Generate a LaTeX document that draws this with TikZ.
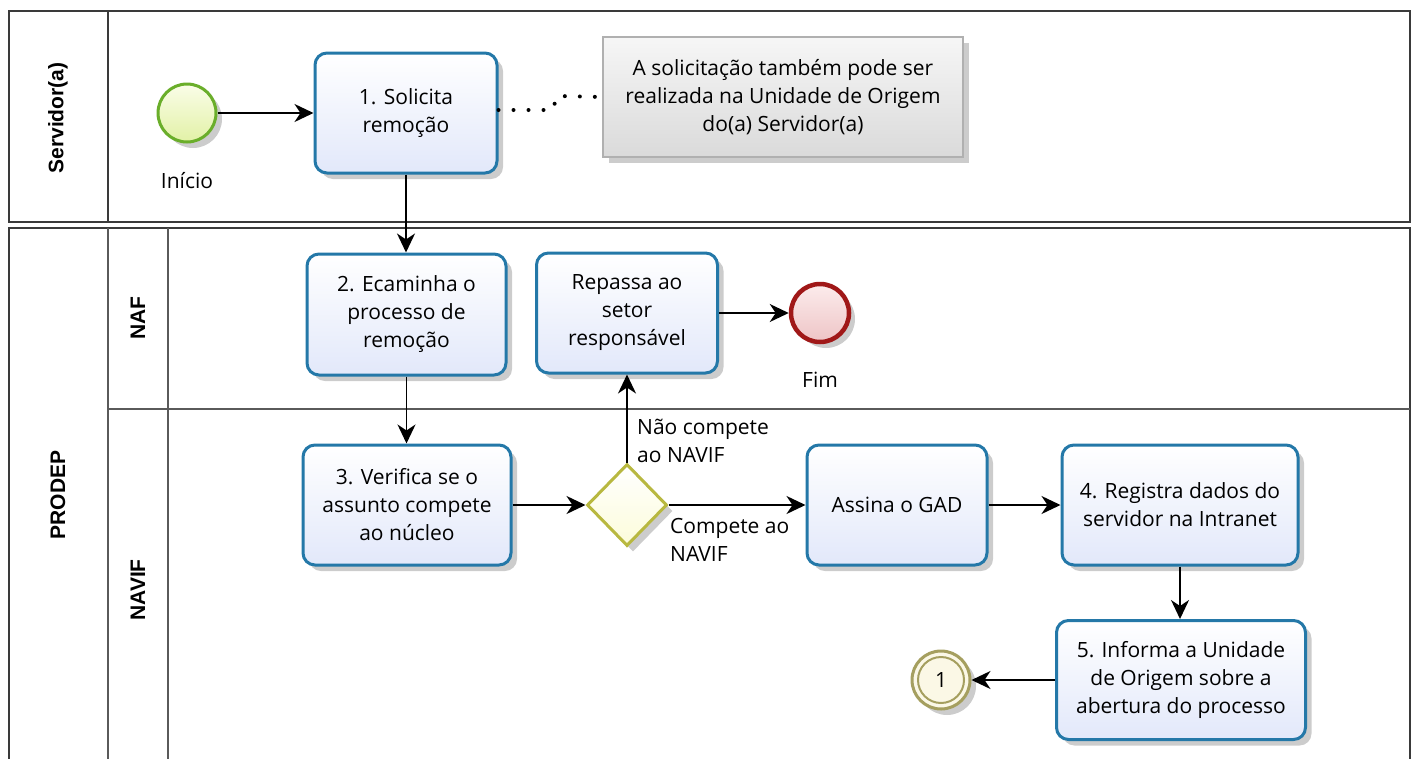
\documentclass[tikz,border=0pt]{standalone}
\usepackage{fontspec}
\setmainfont{Open Sans}
\newfontfamily\lanefont{Liberation Sans}
\usetikzlibrary{arrows.meta,shadows,shapes.geometric}
\definecolor{taskblue}{RGB}{36,120,168}
\definecolor{taskfill}{RGB}{226,232,250}
\definecolor{poolline}{RGB}{58,58,58}
\definecolor{laneline}{RGB}{90,90,90}
\definecolor{startgreen}{RGB}{106,174,42}
\definecolor{startfilltop}{RGB}{250,253,232}
\definecolor{startfillbot}{RGB}{226,241,166}
\definecolor{endred}{RGB}{160,24,24}
\definecolor{endfilltop}{RGB}{252,236,236}
\definecolor{endfillbot}{RGB}{238,196,198}
\definecolor{gwolive}{RGB}{184,184,64}
\definecolor{gwfill}{RGB}{252,252,218}
\definecolor{interolive}{RGB}{165,159,95}
\definecolor{interfill}{RGB}{251,248,230}
\definecolor{notetop}{RGB}{246,246,246}
\definecolor{notebot}{RGB}{218,218,218}
\definecolor{noteline}{RGB}{176,176,176}
\tikzset{
  x=1pt, y=-1pt,
  txt/.style={font=\fontsize{21}{28}\selectfont},
  softshadow/.style={drop shadow={shadow xshift=6pt, shadow yshift=-6pt, opacity=0.2, fill=black}},
  taskbox/.style={txt, draw=taskblue, line width=3pt, rounded corners=12pt,
    top color=white, bottom color=taskfill, align=center, inner sep=0pt, softshadow},
  notebox/.style={txt, draw=noteline, line width=1.5pt, top color=notetop, bottom color=notebot,
    align=center, inner sep=0pt, softshadow},
  startev/.style={circle, draw=startgreen, line width=3pt, top color=startfilltop,
    bottom color=startfillbot, minimum size=58pt, inner sep=0pt, softshadow},
  endev/.style={circle, draw=endred, line width=4.5pt, top color=endfilltop,
    bottom color=endfillbot, minimum size=58pt, inner sep=0pt, softshadow},
  interev/.style={circle, draw=interolive, line width=3pt, fill=interfill,
    minimum size=58pt, inner sep=0pt, softshadow, txt},
  gwshape/.style={diamond, draw=gwolive, line width=3pt, top color=white, bottom color=gwfill,
    minimum width=80pt, minimum height=82pt, inner sep=0pt, softshadow},
  flow/.style={line width=1.8pt, draw=black, -{Stealth[length=19pt,width=18pt,inset=6pt]}},
  assoc/.style={line width=4pt, draw=black, dash pattern=on 0pt off 15pt, line cap=round},
  pool/.style={draw=poolline, line width=2pt},
  lane/.style={draw=laneline, line width=1.5pt},
  lanelabel/.style={font=\lanefont\bfseries\fontsize{21}{24}\selectfont, rotate=90},
  lbl/.style={txt, inner sep=0pt, align=left}
}
\begin{document}
\begin{tikzpicture}
\useasboundingbox (0,0) rectangle (1416,758);
\clip (0,0) rectangle (1416,758);
\fill[white] (0,0) rectangle (1416,758);

% Pool 1: Servidor(a)
\draw[pool] (9,11) rectangle (1410,222);
\draw[pool] (108,11) -- (108,222);
\node[lanelabel] (lsrv) at (58,118) {Servidor(a)};

% Pool 2: PRODEP
\draw[pool] (9,770) -- (9,228) -- (1410,228) -- (1410,770);
\draw[lane] (108,228) -- (108,770);
\draw[lane] (168,228) -- (168,770);
\draw[lane] (108,409) -- (1410,409);
\node[lanelabel] (lprodep) at (58,495) {PRODEP};
\node[lanelabel] (lnaf) at (138,318) {NAF};
\node[lanelabel] (lnavif) at (138,590) {NAVIF};

% Nodes
\node[startev] (start) at (187,113) {};
\node[txt] (startlbl) at (187,181) {Início};
\node[taskbox, minimum width=182pt, minimum height=120pt] (t1) at (406,113) {1. Solicita\\remoção};
\node[notebox, minimum width=360pt, minimum height=120pt] (note) at (783,97)
  {A solicitação também pode ser\\realizada na Unidade de Origem\\do(a) Servidor(a)};

\node[taskbox, minimum width=199pt, minimum height=121pt] (t2) at (406.5,314.5) {2. Ecaminha o\\processo de\\remoção};
\node[taskbox, minimum width=181pt, minimum height=120pt] (rep) at (627,313) {Repassa ao\\setor\\responsável};
\node[endev] (fim) at (820,313) {};
\node[txt] (fimlbl) at (820,380) {Fim};

\node[taskbox, minimum width=208pt, minimum height=120pt] (t3) at (407,505) {3. Verifica se o\\assunto compete\\ao núcleo};
\node[gwshape] (gw) at (627,505) {};
\node[taskbox, minimum width=180pt, minimum height=120pt] (gad) at (897,505) {Assina o GAD};
\node[taskbox, minimum width=236pt, minimum height=120pt] (t4) at (1180,505) {4. Registra dados do\\servidor na Intranet};
\node[taskbox, minimum width=249pt, minimum height=119pt] (t5) at (1181,680) {5. Informa a Unidade\\de Origem sobre a\\abertura do processo};
\node[interev] (e1) at (941,680) {1};
\draw[interolive, line width=2pt] (e1.center) circle (23pt);

% Labels on gateway flows
\node[lbl, anchor=west] (lblno) at (637,441) {Não compete\\ao NAVIF};
\node[lbl, anchor=west] (lblyes) at (670,540) {Compete ao\\NAVIF};

% Connectors
\draw[flow] (start) -- (t1);
\draw[assoc] ([yshift=3pt]t1.east) -- ++(53,0) -- ++(7,-14) -- (note.west);
\draw[flow] (t1.south) -- (t1.south |- t2.north);
\draw[flow] (t2.south) -- (t2.south |- t3.north);
\draw[flow] (t3) -- (gw);
\draw[flow] (gw.north) -- (gw.north |- rep.south);
\draw[flow] (gw) -- (gad);
\draw[flow] (rep) -- (fim);
\draw[flow] (gad) -- (t4);
\draw[flow] (t4.south) -- (t4.south |- t5.north);
\draw[flow] (t5) -- (e1);
\end{tikzpicture}
\end{document}
